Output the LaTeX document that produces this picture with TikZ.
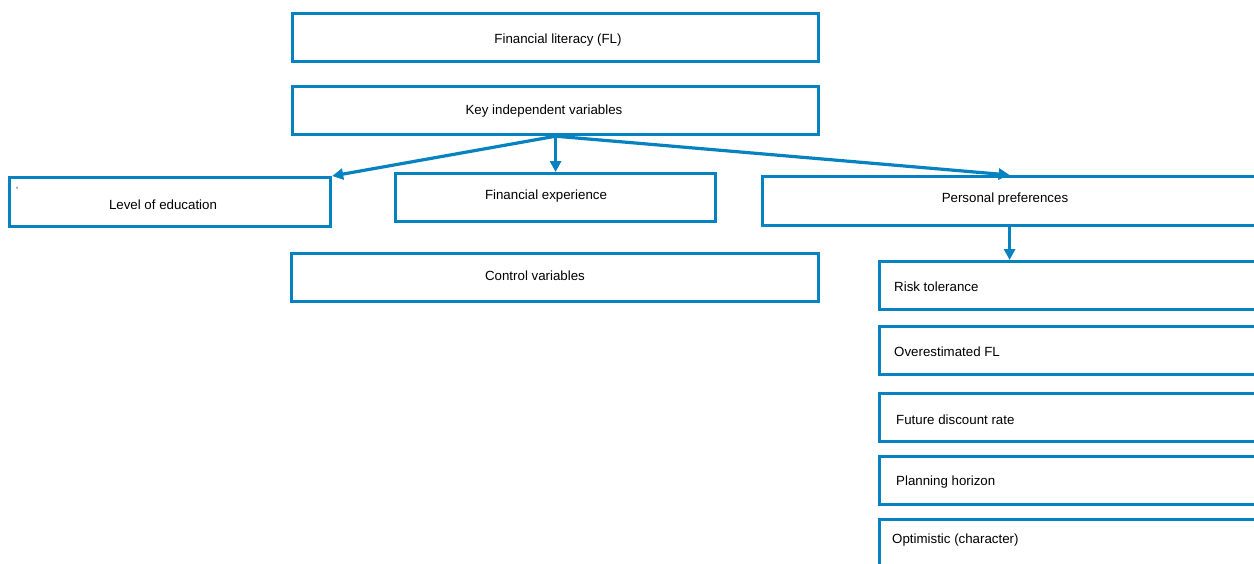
\documentclass[tikz,border=0pt]{standalone}
\usepackage{fontspec}
\setmainfont{Liberation Sans}
\usetikzlibrary{arrows.meta,calc}
\definecolor{boxblue}{RGB}{6,130,192}
\tikzset{
  box/.style={draw=boxblue, line width=3.2pt, rectangle, anchor=north west, inner sep=0pt},
  conn/.style={draw=boxblue, line width=3.2pt, -{Triangle[length=11pt,width=11pt]}},
  txt/.style={font=\fontsize{13.3}{15}\selectfont, text=black, inner sep=0pt}
}
\begin{document}
\begin{tikzpicture}[x=1pt,y=-1pt]
\useasboundingbox (0,0) rectangle (1254,563);
\clip (0,0) rectangle (1254,563);
% top boxes
\node[box, minimum width=526pt, minimum height=48pt] (fl) at (291,12) {};
\node[txt] (flt) at (558,40) {Financial literacy (FL)};
\node[box, minimum width=526pt, minimum height=48pt] (key) at (291,85) {};
\node[txt] (keyt) at (544,111) {Key independent variables};
% level 2
\node[box, minimum width=321pt, minimum height=49pt] (lev) at (8,176) {};
\node[txt] (levt) at (163,205) {Level of education};
\node[txt, font=\fontsize{9}{10}\selectfont] (tick) at (17,190) {\textquoteright};
\node[box, minimum width=320pt, minimum height=48pt] (fin) at (394,172) {};
\node[txt] (fint) at (546,196) {Financial experience};
\node[box, minimum width=494pt, minimum height=49pt] (pers) at (761,175) {};
\node[txt] (perst) at (1005,199) {Personal preferences};
\node[box, minimum width=527pt, minimum height=48pt] (ctrl) at (290,252) {};
\node[txt] (ctrlt) at (535,276) {Control variables};
% right column
\node[box, minimum width=420pt, minimum height=48pt] (risk) at (878,260) {};
\node[txt, anchor=west] (riskt) at (894,287) {Risk tolerance};
\node[box, minimum width=420pt, minimum height=48pt] (over) at (878,325) {};
\node[txt, anchor=west] (overt) at (894,352) {Overestimated FL};
\node[box, minimum width=420pt, minimum height=48pt] (disc) at (878,392) {};
\node[txt, anchor=west] (disct) at (896,420) {Future discount rate};
\node[box, minimum width=420pt, minimum height=48pt] (plan) at (878,455) {};
\node[txt, anchor=west] (plant) at (896,482) {Planning horizon};
\node[box, minimum width=420pt, minimum height=60pt] (opt) at (878,518) {};
\node[txt, anchor=west] (optt) at (892,540) {Optimistic (character)};
% connectors
\draw[conn] (key.south) -- (lev.north east);
\draw[conn] (key.south) -- (fin.north);
\draw[conn] (key.south) -- (pers.north);
\draw[conn] (pers.south) -- (pers.south |- risk.north);
\end{tikzpicture}
\end{document}
